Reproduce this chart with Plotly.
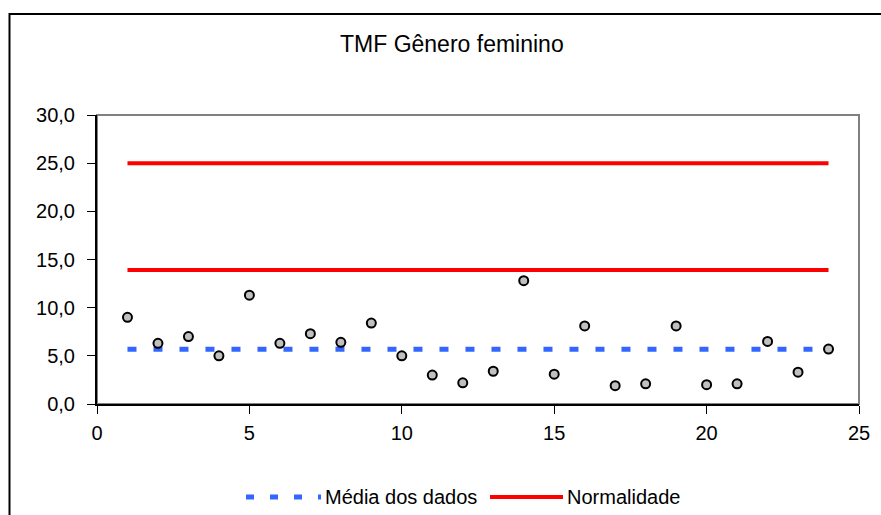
import plotly.graph_objects as go

# Sample index and measured TMF values (female group)
amostras = list(range(1, 25))
tmf = [9.0, 6.3, 7.0, 5.0, 11.3, 6.3, 7.3, 6.4, 8.4, 5.0, 3.0, 2.2,
       3.4, 12.8, 3.1, 8.1, 1.9, 2.1, 8.1, 2.0, 2.1, 6.5, 3.3, 5.7]

# Reference band limits
normal_inf = 13.9
normal_sup = 25.0

media = sum(tmf) / len(tmf)

y_ticks = [0, 5, 10, 15, 20, 25, 30]
x_ticks = [0, 5, 10, 15, 20, 25]

W, H = 881, 515
ML, MR, MT, MB = 97, 22, 115, 111
PW, PH = W - ML - MR, H - MT - MB


def px(x):
    return (x - ML) / PW


def py(y):
    return (H - MB - y) / PH


BLUE = "#3366ff"
RED = "#ff0000"
FONT = "Liberation Sans, Arial, sans-serif"

fig = go.Figure()

x_ends = [amostras[0], amostras[-1]]

fig.add_trace(go.Scatter(
    x=x_ends, y=[media, media], mode="lines",
    line=dict(color=BLUE, width=5, dash="9px,17px"),
    showlegend=False, hoverinfo="skip"))

for lim in (normal_inf, normal_sup):
    fig.add_trace(go.Scatter(
        x=x_ends, y=[lim, lim], mode="lines",
        line=dict(color=RED, width=4),
        showlegend=False, hoverinfo="skip"))

fig.add_trace(go.Scatter(
    x=amostras, y=tmf, mode="markers",
    marker=dict(size=9, color="#c0c0c0", line=dict(color="black", width=2)),
    showlegend=False, cliponaxis=False))

shapes = [
    # plot area frame
    dict(type="rect", xref="paper", yref="paper", x0=0, y0=0, x1=1, y1=1,
         line=dict(color="#808080", width=2), layer="below"),
    # outer chart border (left and top edges visible)
    dict(type="path", xref="paper", yref="paper",
         path=f"M {px(9.5)} {py(640)} L {px(9.5)} {py(14)} L {px(920)} {py(14)}",
         line=dict(color="black", width=2)),
    # legend samples
    dict(type="line", xref="paper", yref="paper",
         x0=px(246), x1=px(321), y0=py(497), y1=py(497),
         line=dict(color=BLUE, width=5, dash="8px,16px")),
    dict(type="line", xref="paper", yref="paper",
         x0=px(490), x1=px(563), y0=py(497), y1=py(497),
         line=dict(color=RED, width=4)),
]

annotations = [
    dict(text="TMF Gênero feminino", xref="paper", yref="paper",
         x=px(452), y=py(44), xanchor="center", yanchor="middle",
         showarrow=False, font=dict(family=FONT, size=23, color="black")),
    dict(text="Média dos dados", xref="paper", yref="paper",
         x=px(323), y=py(497), xanchor="left", yanchor="middle",
         showarrow=False, font=dict(family=FONT, size=20, color="black")),
    dict(text="Normalidade", xref="paper", yref="paper",
         x=px(565), y=py(497), xanchor="left", yanchor="middle",
         showarrow=False, font=dict(family=FONT, size=20, color="black")),
]

fig.update_layout(
    width=W, height=H,
    margin=dict(l=ML, r=MR, t=MT, b=MB),
    paper_bgcolor="white", plot_bgcolor="white",
    separators=",.",
    font=dict(family=FONT, size=20, color="black"),
    shapes=shapes, annotations=annotations,
    showlegend=False,
    xaxis=dict(range=[0, 25], tickmode="array", tickvals=x_ticks,
               showgrid=False, zeroline=False,
               showline=True, linecolor="black", linewidth=2,
               ticks="outside", ticklen=8, tickwidth=1, tickcolor="black",
               ticklabelstandoff=2,
               tickfont=dict(family=FONT, size=20, color="black")),
    yaxis=dict(range=[0, 30], tickmode="array", tickvals=y_ticks,
               tickformat=".1f",
               showgrid=False, zeroline=False,
               showline=True, linecolor="black", linewidth=2,
               ticks="outside", ticklen=8, tickwidth=1, tickcolor="black",
               ticklabelstandoff=8,
               tickfont=dict(family=FONT, size=20, color="black")),
)

fig.write_html("out.html")
